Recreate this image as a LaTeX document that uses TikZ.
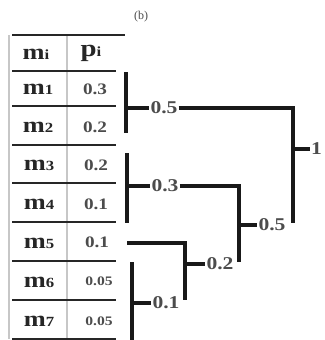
\documentclass[tikz,border=0pt]{standalone}
\usepackage{fontspec}
\usepackage{graphicx}
\setmainfont{Liberation Serif}
\newcommand{\hstr}[1]{\scalebox{1.2}[1]{#1}}
\newcommand{\msub}[1]{\fontsize{14}{14}\selectfont #1}
\begin{document}
\begin{tikzpicture}[x=1pt,y=-1pt,
  br/.style={line width=3.6pt, black!90},
  tl/.style={line width=1.3pt, black!85},
  tv/.style={line width=1.2pt, black!22},
  mlab/.style={inner sep=0pt, font=\fontsize{22}{22}\selectfont\bfseries, text=black!85},
  plab/.style={inner sep=0pt, font=\fontsize{16}{16}\selectfont\bfseries, text=black!70},
  psm/.style={inner sep=0pt, font=\fontsize{13}{13}\selectfont\bfseries, text=black!70},
  blab/.style={inner sep=1pt, font=\fontsize{18}{18}\selectfont\bfseries, text=black!70}]
\useasboundingbox (0,0) rectangle (324,340);
% caption
\node[inner sep=0pt, font=\fontsize{12}{12}\selectfont, text=black!70] (cap) at (141,17) {(b)};
% table lines
\coordinate (t0l) at (12,35); \coordinate (t0r) at (125,35);
\draw[tv] (9,35) -- (9,339);
\draw[tv] (67,35) -- (67,339);
\draw[tl] (t0l) -- (t0r);
\foreach \yy in {71,106,145,183,222,261,300,339}{
  \draw[tl] (12,\yy) -- (116,\yy);
}
% header
\node[mlab] (hm) at (36,54) {\hstr{m\msub{i}}};
\node[mlab, font=\fontsize{24}{24}\selectfont\bfseries] (hp) at (91,53) {\hstr{p\msub{i}}};
% rows
\node[mlab] (m1) at (38,89) {\hstr{m\msub{1}}};
\node[mlab] (m2) at (38,127) {\hstr{m\msub{2}}};
\node[mlab] (m3) at (39,165) {\hstr{m\msub{3}}};
\node[mlab] (m4) at (39,204) {\hstr{m\msub{4}}};
\node[mlab] (m5) at (39,243) {\hstr{m\msub{5}}};
\node[mlab] (m6) at (39,282) {\hstr{m\msub{6}}};
\node[mlab] (m7) at (39,321) {\hstr{m\msub{7}}};
\node[plab] (p1) at (95,89) {\hstr{0.3}};
\node[plab] (p2) at (95,127) {\hstr{0.2}};
\node[plab] (p3) at (96,165) {\hstr{0.2}};
\node[plab] (p4) at (96,204) {\hstr{0.1}};
\node[plab] (p5) at (97,242) {\hstr{0.1}};
\node[psm] (p6) at (99,281) {\hstr{0.05}};
\node[psm] (p7) at (99,321) {\hstr{0.05}};
% bracket labels
\node[blab] (a) at (164,108) {\hstr{0.5}};
\node[blab] (b) at (165,186) {\hstr{0.3}};
\node[blab] (c) at (272,225) {\hstr{0.5}};
\node[blab] (d) at (220,264) {\hstr{0.2}};
\node[blab] (e) at (166,303) {\hstr{0.1}};
\node[blab, anchor=west] (r) at (310,149) {\hstr{1}};
% brackets
\draw[br] (126,72) -- (126,133);
\draw[br] (126,108) -- (a.west);
\draw[br] (a.east) -- (293,108) -- (293,223);
\draw[br] (293,149) -- (r.west);
\draw[br] (127,153) -- (127,223);
\draw[br] (127,186) -- (b.west);
\draw[br] (b.east) -- (239,186) -- (239,262);
\draw[br] (239,225) -- (c.west);
\draw[br] (127,243) -- (185,243) -- (185,300);
\draw[br] (185,264) -- (d.west);
\draw[br] (132,262) -- (132,340);
\draw[br] (132,303) -- (e.west);
\end{tikzpicture}
\end{document}
